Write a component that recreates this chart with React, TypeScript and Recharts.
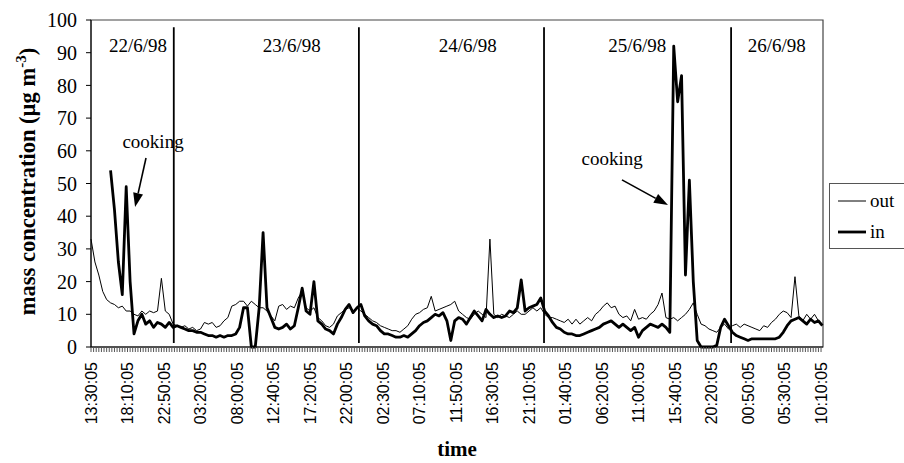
import React from 'react';
import {
  LineChart,
  Line,
  XAxis,
  YAxis,
  ReferenceLine,
  ReferenceDot,
  ReferenceArea,
} from 'recharts';

// one reading kept every 3 slots of 10 minutes
const STEP = 3;
const LABEL_EVERY = 28;

const timeLabels = [
  '13:30:05', '18:10:05', '22:50:05', '03:20:05', '08:00:05', '12:40:05', '17:20:05',
  '22:00:05', '02:30:05', '07:10:05', '11:50:05', '16:30:05', '21:10:05', '01:40:05',
  '06:20:05', '11:00:05', '15:40:05', '20:20:05', '00:50:05', '05:30:05', '10:10:05',
];

const dayLabels = ['22/6/98', '23/6/98', '24/6/98', '25/6/98', '26/6/98'];
const daySlots = [36, 154, 289, 419, 526];
const midnightSlots = [63.5, 205.5, 347.5, 491];

const outValues = [
  33, 26, 22, 17, 14.5, 13.5, 13, 12, 12.5, 11,
  11, 10, 9.5, 11, 10, 11, 10.5, 11, 21, 11,
  10, 7, 6.5, 6, 6.5, 5.5, 6, 5, 5.5, 7.5,
  7, 7.5, 6, 6.5, 8, 9, 12.5, 13, 14, 14,
  12.5, 14, 13, 12, 12, 11, 9.5, 8, 12.5, 13,
  11.5, 12.5, 12, 15, 17, 12, 11, 12, 9, 8,
  6.5, 6, 7, 9.5, 10.5, 11.5, 12, 11, 12, 11,
  10, 9, 8, 7.5, 6.5, 6, 5.5, 5, 5, 4.5,
  5.5, 6.5, 8.5, 10, 10.5, 11.5, 12, 15.5, 11, 11.5,
  12, 12.5, 13, 14, 11, 10, 9, 8.5, 10, 11,
  10, 9, 33, 10, 9, 10, 9.5, 9, 10, 11,
  10, 10, 11, 12, 11, 12, 10, 9, 9, 8.5,
  8, 7.5, 8.5, 7, 8.5, 7, 8, 9, 8, 10,
  11, 12.5, 13.5, 12, 12.5, 10, 9, 9.5, 8, 11.5,
  8.5, 9, 8.5, 10, 11, 13, 16.5, 9, 8.5, 9,
  8, 9, 10, 11.5, 13.5, 10, 7, 6.5, 5.5, 5,
  4.5, 6, 7, 5.5, 6.5, 7, 6, 7, 6.5, 6,
  5.5, 5, 6.5, 6, 7.5, 8.5, 10, 11, 10.5, 9,
  21.5, 9.5, 8, 10, 8.5, 10, 8, 7,
];

const inValues = [
  null, null, null, null, null, 54, 42, 26, 16, 49,
  20, 4, 8, 10, 7, 8, 6, 7.5, 7, 6,
  7.5, 6, 6.5, 6, 5.5, 5, 5, 4.5, 4.5, 4,
  3.5, 3.5, 3, 3.5, 3, 3.5, 3.5, 4, 6, 12,
  12, 0, 0, 12, 35, 12, 9, 6, 5.5, 6,
  7, 5.5, 6.5, 12, 18, 11, 10, 20, 8, 7,
  5.5, 5, 4, 7, 9, 11.5, 13, 10.5, 12, 13,
  9.5, 8, 7, 6.5, 5, 4, 4, 3.5, 3, 3,
  3.5, 3, 4, 5, 6.5, 7.5, 8, 9, 10, 9.5,
  10.5, 8, 2, 8, 9, 8.5, 7, 9, 11, 9.5,
  8, 11.5, 10, 9, 9.5, 9, 9.5, 11, 10.5, 12,
  20.5, 11, 12, 12.5, 13, 15, 11, 9.5, 7.5, 6,
  5.5, 4.5, 4, 4, 3.5, 3.5, 4, 4.5, 5, 5.5,
  6, 7, 7.5, 8, 7, 6, 7, 6, 5, 6,
  3, 5, 6, 7, 6.5, 6, 7, 6, 4.5, 92,
  75, 83, 22, 51, 20, 2, 0, 0, 0, 0,
  0.5, 6, 8.5, 6.5, 4.5, 3.5, 3, 2.5, 2, 2.5,
  2.5, 2.5, 2.5, 2.5, 2.5, 2.5, 3, 4.5, 6.5, 8,
  8.5, 9, 8, 7, 8.5, 7.5, 8, 6.5,
];

const data = outValues.map((v, i) => ({ t: i * STEP, out: v, in: inValues[i] }));

const lastSlot = 561.5;
const tickSlots = Array.from({ length: 281 }, (_, i) => i * 2);

const SERIF = '"Liberation Serif", "Times New Roman", serif';
const SANS = '"Liberation Sans", Arial, sans-serif';

const TimeTick = (props: any) => {
  const { x, y, payload } = props;
  const v = payload.value;
  if (v % LABEL_EVERY !== 0) return <g />;
  return (
    <text
      x={x}
      y={y}
      transform={`rotate(-90 ${x} ${y})`}
      textAnchor="end"
      dy="0.36em"
      fontSize={16}
      fontFamily={SANS}
      fill="#000"
    >
      {timeLabels[v / LABEL_EVERY]}
    </text>
  );
};

const YTitle = (props: any) => {
  const { viewBox } = props;
  const cx = viewBox.x - 24;
  const cy = viewBox.y + viewBox.height / 2 - 2;
  return (
    <text
      x={cx}
      y={cy}
      transform={`rotate(-90 ${cx} ${cy})`}
      textAnchor="middle"
      dy="0.35em"
      fontSize={22.5}
      fontWeight="bold"
      fontFamily={SERIF}
      fill="#000"
    >
      mass concentration (µg m<tspan dy={-9} fontSize={15}>-3</tspan>
      <tspan dy={9}>)</tspan>
    </text>
  );
};

const XTitle = (props: any) => {
  const { viewBox } = props;
  return (
    <text
      x={viewBox.x + viewBox.width / 2}
      y={456}
      textAnchor="middle"
      fontSize={21}
      fontWeight="bold"
      fontFamily={SERIF}
      fill="#000"
    >
      time
    </text>
  );
};

const Arrow = (p: any) => {
  const { x1, y1, x2, y2 } = p;
  const ang = Math.atan2(y2 - y1, x2 - x1);
  const len = 14;
  const half = 5;
  const bx = x2 - len * Math.cos(ang);
  const by = y2 - len * Math.sin(ang);
  const nx = -Math.sin(ang) * half;
  const ny = Math.cos(ang) * half;
  return (
    <g>
      <line x1={x1} y1={y1} x2={bx} y2={by} stroke="#000" strokeWidth={1.6} />
      <polygon points={`${x2},${y2} ${bx + nx},${by + ny} ${bx - nx},${by - ny}`} fill="#000" />
    </g>
  );
};

const textLabel = (value: string) => ({
  value,
  position: 'center' as const,
  fontSize: 19,
  fontFamily: SERIF,
  fill: '#000',
});

export default function App() {
  return (
    <div style={{ position: 'absolute', left: 0, top: 0, width: 904, height: 463, background: '#fff', overflow: 'hidden' }}>
      <LineChart
        width={904}
        height={463}
        data={data}
        margin={{ top: 20, right: 81, bottom: 16, left: 51 }}
      >
        <ReferenceArea x1={0} x2={lastSlot} y1={0} y2={100} fill="none" stroke="#444" strokeWidth={1.2} />
        <XAxis
          type="number"
          dataKey="t"
          domain={[0, lastSlot]}
          ticks={tickSlots}
          interval={0}
          height={100}
          tickSize={5}
          tickMargin={10}
          tickLine={{ stroke: '#555' }}
          axisLine={{ stroke: '#000' }}
          tick={<TimeTick />}
          label={<XTitle />}
        />
        <YAxis
          domain={[0, 100]}
          ticks={[0, 10, 20, 30, 40, 50, 60, 70, 80, 90, 100]}
          width={40}
          tickSize={5}
          tickMargin={9}
          tickLine={{ stroke: '#000' }}
          axisLine={{ stroke: '#000' }}
          tick={{ fontSize: 20, fill: '#000', fontFamily: SERIF }}
          label={<YTitle />}
        />
        {midnightSlots.map((m) => (
          <ReferenceLine key={m} segment={[{ x: m, y: 1.2 }, { x: m, y: 97.8 }]} stroke="#000" strokeWidth={1.8} />
        ))}
        {dayLabels.map((d, i) => (
          <ReferenceDot key={d} x={daySlots[i]} y={92.4} r={0} fill="none" stroke="none" label={textLabel(d)} />
        ))}
        <ReferenceDot x={47.6} y={63} r={0} fill="none" stroke="none" label={textLabel('cooking')} />
        <ReferenceDot x={399.7} y={57.8} r={0} fill="none" stroke="none" label={textLabel('cooking')} />
        <ReferenceLine segment={[{ x: 42.2, y: 57.8 }, { x: 33.8, y: 42.8 }]} shape={<Arrow />} />
        <ReferenceLine segment={[{ x: 407.3, y: 51.1 }, { x: 442.6, y: 43.4 }]} shape={<Arrow />} />
        <Line
          dataKey="out"
          type="linear"
          stroke="#000"
          strokeWidth={1}
          dot={false}
          isAnimationActive={false}
        />
        <Line
          dataKey="in"
          type="linear"
          stroke="#000"
          strokeWidth={2.8}
          strokeLinejoin="round"
          dot={false}
          connectNulls={false}
          isAnimationActive={false}
        />
      </LineChart>
      <div
        style={{
          position: 'absolute',
          left: 829,
          top: 183,
          width: 90,
          height: 64,
          border: '1px solid #555',
          background: '#fff',
          fontFamily: SERIF,
          fontSize: 19,
        }}
      >
        <svg width={90} height={64} style={{ display: 'block' }}>
          <line x1={8} y1={17} x2={36} y2={17} stroke="#000" strokeWidth={1} />
          <text x={40} y={23} fontSize={19} fontFamily={SERIF}>out</text>
          <line x1={8} y1={48} x2={36} y2={48} stroke="#000" strokeWidth={2.8} />
          <text x={40} y={54} fontSize={19} fontFamily={SERIF}>in</text>
        </svg>
      </div>
    </div>
  );
}
